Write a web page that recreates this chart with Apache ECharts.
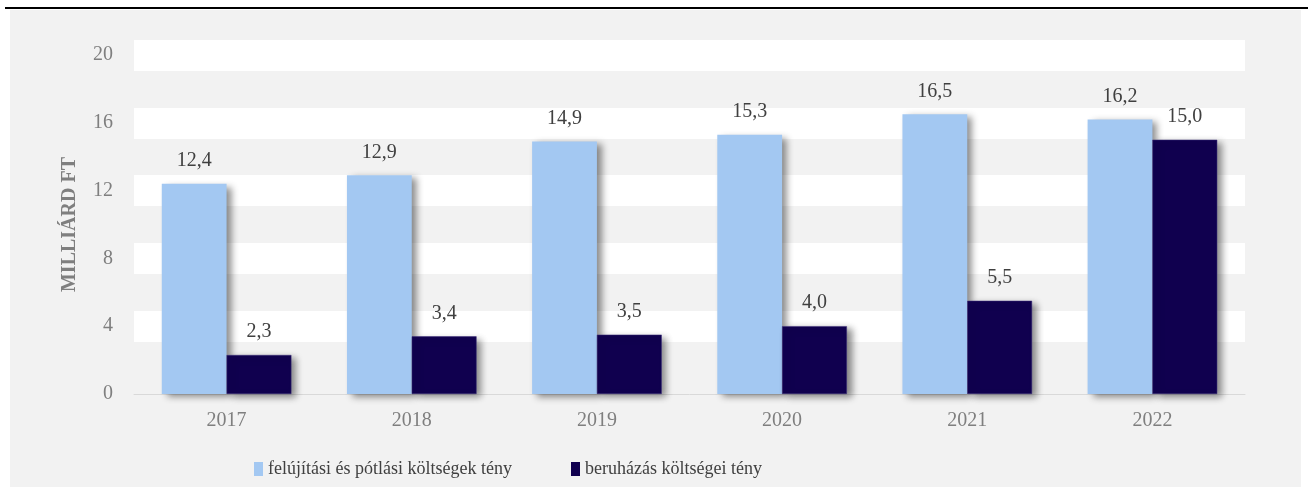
<!DOCTYPE html>
<html>
<head>
<meta charset="utf-8">
<script src="https://cdn.jsdelivr.net/npm/echarts@6/dist/echarts.min.js"></script>
<style>
  html, body { margin: 0; padding: 0; background: #fff; }
  #wrap { position: relative; width: 1308px; height: 487px; }
  #panel { position: absolute; left: 10px; top: 10px; width: 1291px; height: 477px; background: #f2f2f2; }
  #topline { position: absolute; left: 5px; top: 7px; width: 1303px; height: 2px; background: #000; }
  #chart { position: absolute; left: 0; top: 0; width: 1308px; height: 487px; }
</style>
</head>
<body>
<div id="wrap">
  <div id="panel"></div>
  <div id="topline"></div>
  <div id="chart"></div>
</div>
<script>
  var years = ['2017', '2018', '2019', '2020', '2021', '2022']
  var felujitas = [12.4, 12.9, 14.9, 15.3, 16.5, 16.2]
  var beruhazas = [2.3, 3.4, 3.5, 4.0, 5.5, 15.0]
  var nameFel = 'felújítási és pótlási költségek tény'
  var nameBer = 'beruházás költségei tény'

  var font = '"Liberation Serif", "DejaVu Serif", serif'

  function fmt(p) {
    return p.value.toFixed(1).replace('.', ',')
  }

  var myChart = echarts.init(document.getElementById('chart'))

  var barShadow = {
    shadowColor: 'rgba(0,0,0,0.45)',
    shadowBlur: 7,
    shadowOffsetX: 5,
    shadowOffsetY: 3
  }

  var labelStyle = {
    show: true,
    position: 'top',
    distance: 13,
    formatter: fmt,
    fontFamily: font,
    fontSize: 20,
    color: '#404040'
  }

  var option = {
    backgroundColor: 'transparent',
    animation: false,
    grid: {
      left: 134,
      right: 63,
      top: 55,
      bottom: 93
    },
    legend: [
      {
        left: 254,
        top: 460,
        padding: 0,
        icon: 'rect',
        itemWidth: 9,
        itemHeight: 14,
        itemStyle: { borderWidth: 0, shadowBlur: 0, shadowOffsetX: 0, shadowOffsetY: 0 },
        data: [nameFel],
        textStyle: { fontFamily: font, fontSize: 18, color: '#404040' }
      },
      {
        left: 571,
        top: 460,
        padding: 0,
        icon: 'rect',
        itemWidth: 9,
        itemHeight: 14,
        itemStyle: { borderWidth: 0, shadowBlur: 0, shadowOffsetX: 0, shadowOffsetY: 0 },
        data: [nameBer],
        textStyle: { fontFamily: font, fontSize: 18, color: '#404040' }
      }
    ],
    xAxis: {
      type: 'category',
      data: years,
      axisTick: { show: false },
      axisLine: { lineStyle: { color: '#d9d9d9', width: 1 } },
      axisLabel: {
        margin: 17,
        fontFamily: font,
        fontSize: 20,
        color: '#7f7f7f'
      }
    },
    yAxis: {
      type: 'value',
      min: 0,
      max: 20,
      interval: 4,
      name: 'MILLIÁRD FT',
      nameLocation: 'middle',
      nameGap: 54,
      nameTextStyle: {
        fontFamily: font,
        fontSize: 20,
        fontWeight: 'bold',
        color: '#7f7f7f'
      },
      axisLine: { show: false },
      axisTick: { show: false },
      axisLabel: {
        margin: 21,
        fontFamily: font,
        fontSize: 20,
        color: '#7f7f7f'
      },
      splitLine: {
        show: true,
        showMinLine: false,
        lineStyle: { color: '#ffffff', width: 31 }
      }
    },
    series: [
      {
        name: nameFel,
        type: 'bar',
        data: felujitas,
        barGap: '0%',
        barCategoryGap: '30%',
        itemStyle: Object.assign({ color: '#a3c8f2' }, barShadow),
        label: labelStyle
      },
      {
        name: nameBer,
        type: 'bar',
        data: beruhazas,
        barGap: '0%',
        barCategoryGap: '30%',
        itemStyle: Object.assign({ color: '#10004f', borderColor: '#3a2d7a', borderWidth: 0.5 }, barShadow),
        label: labelStyle
      }
    ]
  }
  myChart.setOption(option)
</script>
</body>
</html>
